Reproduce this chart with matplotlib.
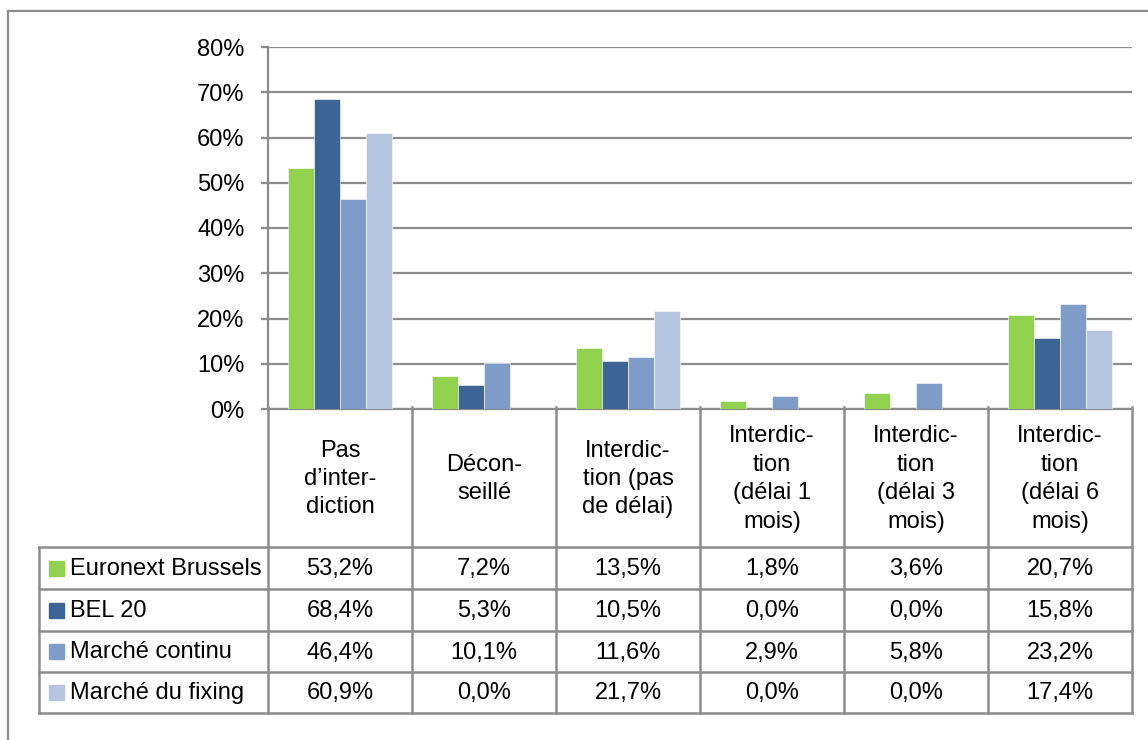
import matplotlib
matplotlib.use("Agg")
import matplotlib.pyplot as plt
from matplotlib.lines import Line2D
from matplotlib.patches import Rectangle

plt.rcParams['font.family'] = ['Liberation Sans', 'DejaVu Sans']

categories = ["Pas\nd\u2019inter-\ndiction", "D\u00e9con-\nseill\u00e9",
              "Interdic-\ntion (pas\nde d\u00e9lai)", "Interdic-\ntion\n(d\u00e9lai 1\nmois)",
              "Interdic-\ntion\n(d\u00e9lai 3\nmois)", "Interdic-\ntion\n(d\u00e9lai 6\nmois)"]
series_names = ["Euronext Brussels", "BEL 20", "March\u00e9 continu", "March\u00e9 du fixing"]
euronext_brussels = [53.2, 7.2, 13.5, 1.8, 3.6, 20.7]
bel_20 = [68.4, 5.3, 10.5, 0.0, 0.0, 15.8]
marche_continu = [46.4, 10.1, 11.6, 2.9, 5.8, 23.2]
marche_fixing = [60.9, 0.0, 21.7, 0.0, 0.0, 17.4]
series_values = [euronext_brussels, bel_20, marche_continu, marche_fixing]
colors = ["#92D050", "#3C6595", "#7F9CC8", "#B5C4DF"]
yticks = [0, 10, 20, 30, 40, 50, 60, 70, 80]

W, H = 1148, 740
FS = 17
GRID = "#8C8C8C"

fig = plt.figure(figsize=(W / 100, H / 100), dpi=100)

# full-figure overlay in pixel coordinates for the frame and data table
ov = fig.add_axes([0, 0, 1, 1])
ov.set_xlim(0, W)
ov.set_ylim(H, 0)
ov.axis("off")

# plot area (pixels)
px_left, px_right, px_top, px_bottom = 268, 1132, 47, 409
ax = fig.add_axes([px_left / W, 1 - px_bottom / H,
                   (px_right - px_left) / W, (px_bottom - px_top) / H])

n = len(categories)
bw = 0.18
for i, (vals, col) in enumerate(zip(series_values, colors)):
    xs = [k + (i - 1.5) * bw for k in range(n)]
    ax.bar(xs, [v / 100 for v in vals], width=bw, color=col,
           edgecolor="white", linewidth=0.4, zorder=3)

ax.set_xlim(-0.5, n - 0.5)
ax.set_ylim(0, 0.8)
ax.set_yticks([t / 100 for t in yticks])
ax.set_yticklabels([f"{t}%" for t in yticks], fontsize=FS)
ax.set_xticks([])
ax.yaxis.grid(True, color=GRID, linewidth=1.6, zorder=0)
ax.tick_params(axis="y", length=5, width=1.6, color=GRID, pad=12)
for s in ["top", "right"]:
    ax.spines[s].set_visible(False)
for s in ["left", "bottom"]:
    ax.spines[s].set_color(GRID)
    ax.spines[s].set_linewidth(1.6)
ax.set_facecolor("none")

# outer chart frame
ov.add_line(Line2D([8, W], [11, 11], color=GRID, lw=1.6))
ov.add_line(Line2D([8, 8], [11, H], color=GRID, lw=1.6))

# data table
col_w = (px_right - px_left) / n
col_x = [px_left + k * col_w for k in range(n + 1)]
tbl_left = 39
row_y = [547, 589, 631, 672, 713]
lw_t = 1.8

for x in col_x:
    ov.add_line(Line2D([x, x], [px_bottom - 2, row_y[-1]], color=GRID, lw=lw_t))
ov.add_line(Line2D([tbl_left, tbl_left], [row_y[0], row_y[-1]], color=GRID, lw=lw_t))
for y in row_y:
    ov.add_line(Line2D([tbl_left, px_right], [y, y], color=GRID, lw=lw_t))

for k, cat in enumerate(categories):
    ov.text(col_x[k] + col_w / 2, (px_bottom + row_y[0]) / 2 + 1, cat,
            ha="center", va="center", fontsize=FS, linespacing=1.38,
            color="black")

for r, (name, vals, col) in enumerate(zip(series_names, series_values, colors)):
    yc = (row_y[r] + row_y[r + 1]) / 2
    ov.add_patch(Rectangle((49, yc - 7.5), 15, 15, color=col))
    ov.text(70, yc + 1, name, ha="left", va="center", fontsize=FS, color="black")
    for k, v in enumerate(vals):
        ov.text(col_x[k] + col_w / 2, yc + 1, f"{v:.1f}%".replace(".", ","),
                ha="center", va="center", fontsize=FS, color="black")

fig.savefig("out.png", dpi=100)
